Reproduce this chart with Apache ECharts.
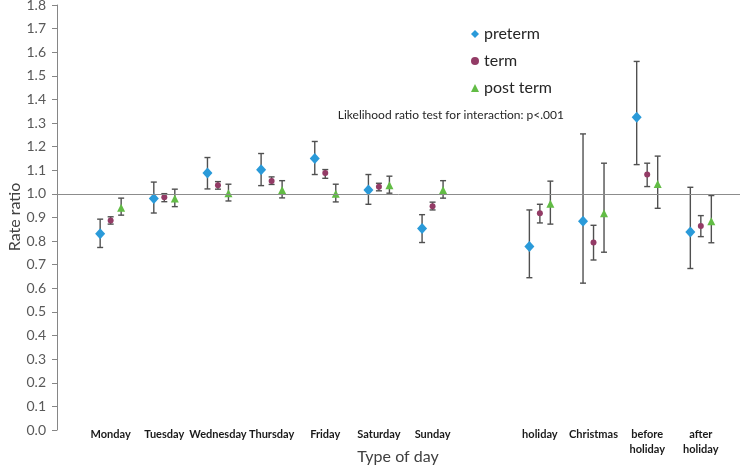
<!DOCTYPE html>
<html>
<head>
<meta charset="utf-8">
<script src="https://cdn.jsdelivr.net/npm/echarts@6/dist/echarts.min.js"></script>
<style>
html,body{margin:0;padding:0;background:#fff;}
#chart{width:740px;height:466px;}
</style>
</head>
<body>
<div id="chart"></div>
<script>
// Categories (blank entries are empty slots on the axis)
const categories = ['', 'Monday', 'Tuesday', 'Wednesday', 'Thursday', 'Friday', 'Saturday', 'Sunday', '', 'holiday', 'Christmas', 'before holiday', 'after holiday'];

const preterm     = [null, 0.831, 0.980, 1.088, 1.102, 1.150, 1.017, 0.853, null, 0.777, 0.884, 1.325, 0.839];
const pretermLow  = [null, 0.773, 0.919, 1.021, 1.035, 1.082, 0.956, 0.794, null, 0.645, 0.622, 1.124, 0.684];
const pretermHigh = [null, 0.893, 1.050, 1.154, 1.171, 1.222, 1.082, 0.912, null, 0.932, 1.254, 1.561, 1.028];

const term     = [null, 0.887, 0.986, 1.037, 1.055, 1.088, 1.030, 0.948, null, 0.918, 0.794, 1.082, 0.864];
const termLow  = [null, 0.872, 0.967, 1.020, 1.040, 1.066, 1.013, 0.932, null, 0.877, 0.720, 1.031, 0.819];
const termHigh = [null, 0.903, 1.001, 1.052, 1.072, 1.103, 1.045, 0.965, null, 0.956, 0.867, 1.130, 0.908];

const postTerm     = [null, 0.941, 0.980, 1.003, 1.017, 1.001, 1.037, 1.017, null, 0.958, 0.918, 1.042, 0.884];
const postTermLow  = [null, 0.910, 0.946, 0.970, 0.983, 0.966, 1.003, 0.982, null, 0.872, 0.753, 0.939, 0.793];
const postTermHigh = [null, 0.982, 1.020, 1.041, 1.056, 1.041, 1.075, 1.056, null, 1.054, 1.130, 1.160, 0.993];

const yTicks = [0, 1.8, 0.1]; // min, max, interval
const annotation = 'Likelihood ratio test for interaction: p<.001';
const xTitle = 'Type of day';
const yTitle = 'Rate ratio';

const FONT = 'Lato, "Open Sans", sans-serif';
const series_def = [
  {name: 'preterm', vals: preterm, lo: pretermLow, hi: pretermHigh, color: '#2A9AD9', symbol: 'diamond', size: [10, 11], off: -10.5},
  {name: 'term', vals: term, lo: termLow, hi: termHigh, color: '#933B66', symbol: 'circle', size: 6, off: 0},
  {name: 'post term', vals: postTerm, lo: postTermLow, hi: postTermHigh, color: '#62BC45', symbol: 'triangle', size: 8, off: 10.5}
];

function pts(vals) {
  const out = [];
  vals.forEach((v, i) => { if (v != null) out.push([i, v]); });
  return out;
}
function bars(lo, hi) {
  const out = [];
  lo.forEach((v, i) => { if (v != null) out.push([i, v, hi[i]]); });
  return out;
}

const series = [];
series_def.forEach((s, k) => {
  series.push({
    type: 'custom',
    name: s.name + ' CI',
    silent: true,
    z: 2,
    data: bars(s.lo, s.hi),
    encode: {x: 0, y: [1, 2]},
    renderItem: function (params, api) {
      const x = api.value(0);
      const pHi = api.coord([x, api.value(2)]);
      const pLo = api.coord([x, api.value(1)]);
      const cx = pHi[0] + s.off;
      const st = {stroke: '#505050', lineWidth: 1.4};
      return {
        type: 'group',
        children: [
          {type: 'line', shape: {x1: cx, y1: pHi[1], x2: cx, y2: pLo[1]}, style: st},
          {type: 'line', shape: {x1: cx - 3, y1: pHi[1], x2: cx + 3, y2: pHi[1]}, style: st},
          {type: 'line', shape: {x1: cx - 3, y1: pLo[1], x2: cx + 3, y2: pLo[1]}, style: st}
        ]
      };
    }
  });
  const sc = {
    type: 'scatter',
    name: s.name,
    z: 3,
    data: pts(s.vals),
    symbol: s.symbol,
    symbolSize: s.size,
    symbolOffset: [s.off, 0],
    itemStyle: {color: s.color, opacity: 1},
    emphasis: {disabled: true}
  };
  if (k === 0) {
    sc.markLine = {
      silent: true,
      symbol: 'none',
      label: {show: false},
      lineStyle: {color: '#8C8C8C', width: 1, type: 'solid'},
      data: [{yAxis: 1}],
      animation: false
    };
  }
  series.push(sc);
});

const chart = echarts.init(document.getElementById('chart'), null, {renderer: 'canvas'});
chart.setOption({
  animation: false,
  backgroundColor: '#fff',
  grid: {left: 57, right: 0, top: 5, bottom: 36, containLabel: false, outerBoundsMode: 'none'},
  legend: {
    orient: 'vertical',
    left: 466,
    top: 20,
    itemWidth: 8,
    itemHeight: 8,
    itemGap: 9,
    selectedMode: false,
    textStyle: {fontFamily: FONT, fontSize: 16, color: '#262626', lineHeight: 18},
    data: [
      {name: 'preterm', icon: 'diamond', itemStyle: {color: '#2A9AD9'}},
      {name: 'term', icon: 'circle', itemStyle: {color: '#933B66'}},
      {name: 'post term', icon: 'triangle', itemStyle: {color: '#62BC45'}}
    ]
  },
  xAxis: {
    type: 'value',
    min: 0,
    max: 12.73,
    interval: 1,
    axisLine: {show: false},
    axisTick: {show: false},
    splitLine: {show: false},
    axisLabel: {
      showMaxLabel: false,
      hideOverlap: false,
      margin: -3,
      fontFamily: FONT,
      fontSize: 11,
      fontWeight: 'bold',
      color: '#1a1a1a',
      lineHeight: 15,
      formatter: function (v) {
        const c = categories[Math.round(v)];
        return c ? c.replace(' ', '\n') : '';
      }
    }
  },
  yAxis: {
    type: 'value',
    min: yTicks[0],
    max: yTicks[1],
    interval: yTicks[2],
    axisLine: {show: true, lineStyle: {color: '#868686'}},
    axisTick: {show: true, inside: false, length: 5, lineStyle: {color: '#868686'}},
    splitLine: {show: false},
    axisLabel: {
      margin: 11,
      fontFamily: FONT,
      fontSize: 14,
      color: '#595959',
      formatter: function (v) { return v.toFixed(1); }
    }
  },
  graphic: [{
    type: 'text',
    right: 740 - 564,
    top: 109,
    style: {text: annotation, font: '12px ' + FONT, fill: '#262626'}
  }, {
    type: 'text',
    x: 398, y: 457,
    style: {text: xTitle, font: '16px ' + FONT, fill: '#404040', textAlign: 'center', textVerticalAlign: 'middle'}
  }, {
    type: 'text',
    x: 15, y: 217,
    rotation: Math.PI / 2,
    style: {text: yTitle, font: '16px ' + FONT, fill: '#404040', textAlign: 'center', textVerticalAlign: 'middle'}
  }],
  series: series
});
</script>
</body>
</html>
